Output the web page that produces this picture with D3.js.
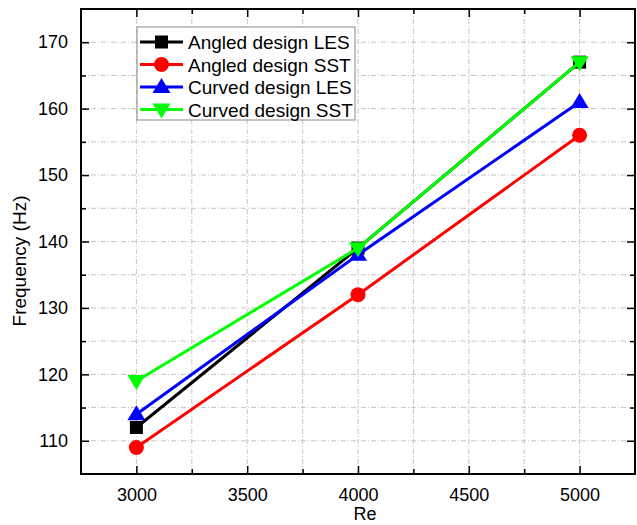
<!DOCTYPE html>
<html><head><meta charset="utf-8">
<script src="https://cdn.jsdelivr.net/npm/d3@7"></script>
<style>body{margin:0;background:#fff}svg{display:block}</style>
</head><body>
<svg id="c" width="637" height="525"></svg>
<script>
const reValues = [3000, 4000, 5000];
const angledLES = [112, 139, 167];
const angledSST = [109, 132, 156];
const curvedLES = [114, 138, 161];
const curvedSST = [119, 139, 167];
const seriesNames = ["Angled design LES", "Angled design SST", "Curved design LES", "Curved design SST"];
const xTicks = [3000, 3500, 4000, 4500, 5000];
const yTicks = [110, 120, 130, 140, 150, 160, 170];

const series = [
  {name: seriesNames[0], values: angledLES, color: "#000000", shape: "square"},
  {name: seriesNames[1], values: angledSST, color: "#ff0000", shape: "circle"},
  {name: seriesNames[2], values: curvedLES, color: "#0000ff", shape: "up"},
  {name: seriesNames[3], values: curvedSST, color: "#00ff00", shape: "down"}
];

const L = 81, R = 635, T = 9, B = 474;
const x = d3.scaleLinear().domain([2750, 5250]).range([L, R]);
const y = d3.scaleLinear().domain([105, 175]).range([B, T]);
const svg = d3.select("#c");
const font = "Arial, 'Liberation Sans', sans-serif";

// grid
const gx = d3.range(2750, 5251, 250).filter(v => v > 2750 && v < 5250);
const gy = d3.range(105, 176, 5).filter(v => v > 105 && v < 175);
const grid = svg.append("g").attr("stroke", "#c4c4c4").attr("stroke-width", 1).attr("stroke-dasharray", "5,2,1,2");
grid.selectAll(".vx").data(gx).enter().append("line")
  .attr("x1", d => x(d)).attr("x2", d => x(d)).attr("y1", T).attr("y2", B);
grid.selectAll(".hy").data(gy).enter().append("line")
  .attr("x1", L).attr("x2", R).attr("y1", d => y(d)).attr("y2", d => y(d));

function styleAxis(g) {
  g.select(".domain").remove();
  g.selectAll("line").attr("stroke", "#000").attr("stroke-width", 1.5);
  g.selectAll("text").attr("font-family", font).attr("font-size", 18).attr("fill", "#000");
}
const xMinor = d3.range(3250, 5250, 500);
const yMinor = d3.range(105, 176, 10).filter(v => v > 105 && v < 175);

svg.append("g").attr("transform", `translate(0,${B})`)
  .call(d3.axisBottom(x).tickValues(xTicks).tickFormat(d3.format("d")).tickSizeInner(-8).tickPadding(14))
  .call(styleAxis);
svg.append("g").attr("transform", `translate(0,${B})`)
  .call(d3.axisBottom(x).tickValues(xMinor).tickFormat("").tickSizeInner(-5))
  .call(styleAxis);
svg.append("g").attr("transform", `translate(0,${T})`)
  .call(d3.axisTop(x).tickValues(xTicks).tickFormat("").tickSizeInner(-8))
  .call(styleAxis);
svg.append("g").attr("transform", `translate(0,${T})`)
  .call(d3.axisTop(x).tickValues(xMinor).tickFormat("").tickSizeInner(-5))
  .call(styleAxis);
svg.append("g").attr("transform", `translate(${L},0)`)
  .call(d3.axisLeft(y).tickValues(yTicks).tickFormat(d3.format("d")).tickSizeInner(-8).tickPadding(13))
  .call(styleAxis);
svg.append("g").attr("transform", `translate(${L},0)`)
  .call(d3.axisLeft(y).tickValues(yMinor).tickFormat("").tickSizeInner(-5))
  .call(styleAxis);
svg.append("g").attr("transform", `translate(${R},0)`)
  .call(d3.axisRight(y).tickValues(yTicks).tickFormat("").tickSizeInner(-8))
  .call(styleAxis);
svg.append("g").attr("transform", `translate(${R},0)`)
  .call(d3.axisRight(y).tickValues(yMinor).tickFormat("").tickSizeInner(-5))
  .call(styleAxis);

svg.append("rect").attr("x", L).attr("y", T).attr("width", R - L).attr("height", B - T)
  .attr("fill", "none").attr("stroke", "#000").attr("stroke-width", 2);

svg.append("text").attr("x", 365).attr("y", 520).attr("text-anchor", "middle")
  .attr("font-family", font).attr("font-size", 18).text("Re");
svg.append("text").attr("transform", "translate(26,261) rotate(-90)").attr("text-anchor", "middle")
  .attr("font-family", font).attr("font-size", 19).text("Frequency (Hz)");

function marker(g, shape, color, cx, cy) {
  if (shape === "square") {
    g.append("rect").attr("x", cx - 6.5).attr("y", cy - 6.5).attr("width", 13).attr("height", 13).attr("fill", color);
  } else if (shape === "circle") {
    g.append("circle").attr("cx", cx).attr("cy", cy).attr("r", 7.5).attr("fill", color);
  } else if (shape === "up") {
    g.append("path").attr("d", `M${cx},${cy - 9}L${cx + 9},${cy + 6}L${cx - 9},${cy + 6}Z`).attr("fill", color);
  } else {
    g.append("path").attr("d", `M${cx},${cy + 9}L${cx + 9},${cy - 6}L${cx - 9},${cy - 6}Z`).attr("fill", color);
  }
}

const line = d3.line().x((d, i) => x(reValues[i])).y(d => y(d));
series.forEach(s => {
  const g = svg.append("g");
  g.append("path").attr("d", line(s.values)).attr("fill", "none").attr("stroke", s.color).attr("stroke-width", 3);
  s.values.forEach((v, i) => marker(g, s.shape, s.color, x(reValues[i]), y(v)));
});

const lg = svg.append("g");
lg.append("rect").attr("x", 137).attr("y", 27).attr("width", 218).attr("height", 93)
  .attr("fill", "#fff").attr("stroke", "#888").attr("stroke-width", 1);
series.forEach((s, i) => {
  const cy = 42 + i * 22.5;
  lg.append("line").attr("x1", 140).attr("x2", 183).attr("y1", cy).attr("y2", cy)
    .attr("stroke", s.color).attr("stroke-width", 3);
  marker(lg, s.shape, s.color, 161.5, cy);
  lg.append("text").attr("x", 188).attr("y", cy + 7).attr("font-family", font).attr("font-size", 19)
    .text(s.name);
});
</script>
</body></html>
